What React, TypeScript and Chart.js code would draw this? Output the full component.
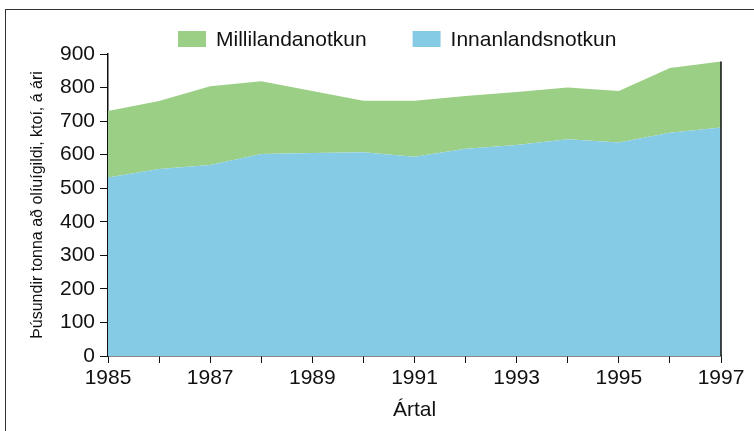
import React, { useEffect, useRef } from "react";
import { Chart, registerables } from "chart.js";

Chart.register(...registerables);

const years = ["1985","1986","1987","1988","1989","1990","1991","1992","1993","1994","1995","1996","1997"];
const innanlandsnotkun = [532, 557, 569, 602, 605, 607, 594, 618, 629, 646, 636, 665, 681];
const millilandanotkun = [198, 203, 235, 217, 185, 154, 167, 157, 158, 154, 154, 193, 197];
const yTicks = [0, 100, 200, 300, 400, 500, 600, 700, 800, 900];

const FONT = "'Liberation Sans', Arial, Helvetica, sans-serif";
const GREEN = "#9bcf85";
const BLUE = "#86cbe6";

const legendPlugin = {
  id: "customLegend",
  afterDraw(chart: any) {
    const ctx = chart.ctx;
    ctx.save();
    ctx.font = `21px ${FONT}`;
    ctx.textBaseline = "middle";
    ctx.textAlign = "left";
    let x = 178;
    const cy = 39;
    const ds = [...chart.data.datasets].reverse();
    ds.forEach((d: any) => {
      ctx.fillStyle = d.backgroundColor;
      ctx.fillRect(x, cy - 8, 28, 16);
      ctx.fillStyle = "#111";
      ctx.fillText(d.label, x + 38, cy + 1);
      x += 38 + ctx.measureText(d.label).width + 46;
    });
    ctx.restore();
  },
};

const edgePlugin = {
  id: "rightEdge",
  afterDatasetsDraw(chart: any) {
    const ctx = chart.ctx;
    const xs = chart.scales.x;
    const ys = chart.scales.y;
    const last = years.length - 1;
    const total = innanlandsnotkun[last] + millilandanotkun[last];
    const px = xs.getPixelForValue(last);
    ctx.save();
    ctx.strokeStyle = "#111";
    ctx.lineWidth = 1.5;
    ctx.beginPath();
    ctx.moveTo(px, ys.getPixelForValue(total));
    ctx.lineTo(px, ys.getPixelForValue(0));
    ctx.stroke();
    ctx.restore();
  },
};

export default function App() {
  const ref = useRef<HTMLCanvasElement>(null);
  useEffect(() => {
    if (!ref.current) return;
    const chart = new Chart(ref.current, {
      type: "line",
      data: {
        labels: years,
        datasets: [
          {
            label: "Innanlandsnotkun",
            data: innanlandsnotkun,
            backgroundColor: BLUE,
            borderColor: BLUE,
            borderWidth: 0,
            pointRadius: 0,
            fill: "origin",
            tension: 0,
          },
          {
            label: "Millilandanotkun",
            data: millilandanotkun,
            backgroundColor: GREEN,
            borderColor: GREEN,
            borderWidth: 0,
            pointRadius: 0,
            fill: "-1",
            tension: 0,
          },
        ],
      },
      options: {
        animation: false,
        responsive: false,
        maintainAspectRatio: false,
        devicePixelRatio: 1,
        layout: { padding: { top: 54, right: 33, left: 26, bottom: 0 } },
        plugins: {
          legend: { display: false },
          tooltip: { enabled: false },
        },
        scales: {
          x: {
            offset: false,
            grid: {
              drawOnChartArea: false,
              drawTicks: true,
              tickLength: 7,
              color: "#111",
              lineWidth: 1,
            },
            border: { color: "#111", width: 1.5 },
            ticks: {
              autoSkip: false,
              maxRotation: 0,
              padding: 3,
              color: "#111",
              font: { family: FONT, size: 21 },
              callback: (_v: any, i: number) => (i % 2 === 0 ? years[i] : ""),
            },
            title: {
              display: true,
              text: "Ártal",
              color: "#111",
              font: { family: FONT, size: 21 },
              padding: { top: 0, bottom: 8 },
            },
            afterFit: (s: any) => {
              s.height = 75;
            },
          },
          y: {
            stacked: true,
            min: 0,
            max: 900,
            afterBuildTicks: (s: any) => {
              s.ticks = yTicks.map((v) => ({ value: v }));
            },
            grid: {
              drawOnChartArea: false,
              drawTicks: true,
              tickLength: 8,
              color: "#111",
              lineWidth: 1,
            },
            border: { color: "#111", width: 1.5 },
            ticks: {
              padding: 5,
              color: "#111",
              font: { family: FONT, size: 21 },
            },
            title: {
              display: true,
              text: "Þúsundir tonna að olíuígildi, ktoí, á ári",
              color: "#111",
              font: { family: FONT, size: 16 },
              padding: { top: 2, bottom: 0 },
            },
            afterFit: (s: any) => {
              s.width = 82;
            },
          },
        },
      },
      plugins: [legendPlugin, edgePlugin],
    });
    return () => chart.destroy();
  }, []);

  return (
    <div
      style={{
        position: "absolute",
        left: 0,
        top: 0,
        width: 754,
        height: 431,
        overflow: "hidden",
        background: "#fff",
      }}
    >
      <div
        style={{
          position: "absolute",
          left: 5,
          top: 9,
          width: 800,
          height: 500,
          border: "1.5px solid #333",
          boxSizing: "border-box",
        }}
      />
      <canvas
        ref={ref}
        width={754}
        height={431}
        style={{ position: "absolute", left: 0, top: 0, width: 754, height: 431 }}
      />
    </div>
  );
}
